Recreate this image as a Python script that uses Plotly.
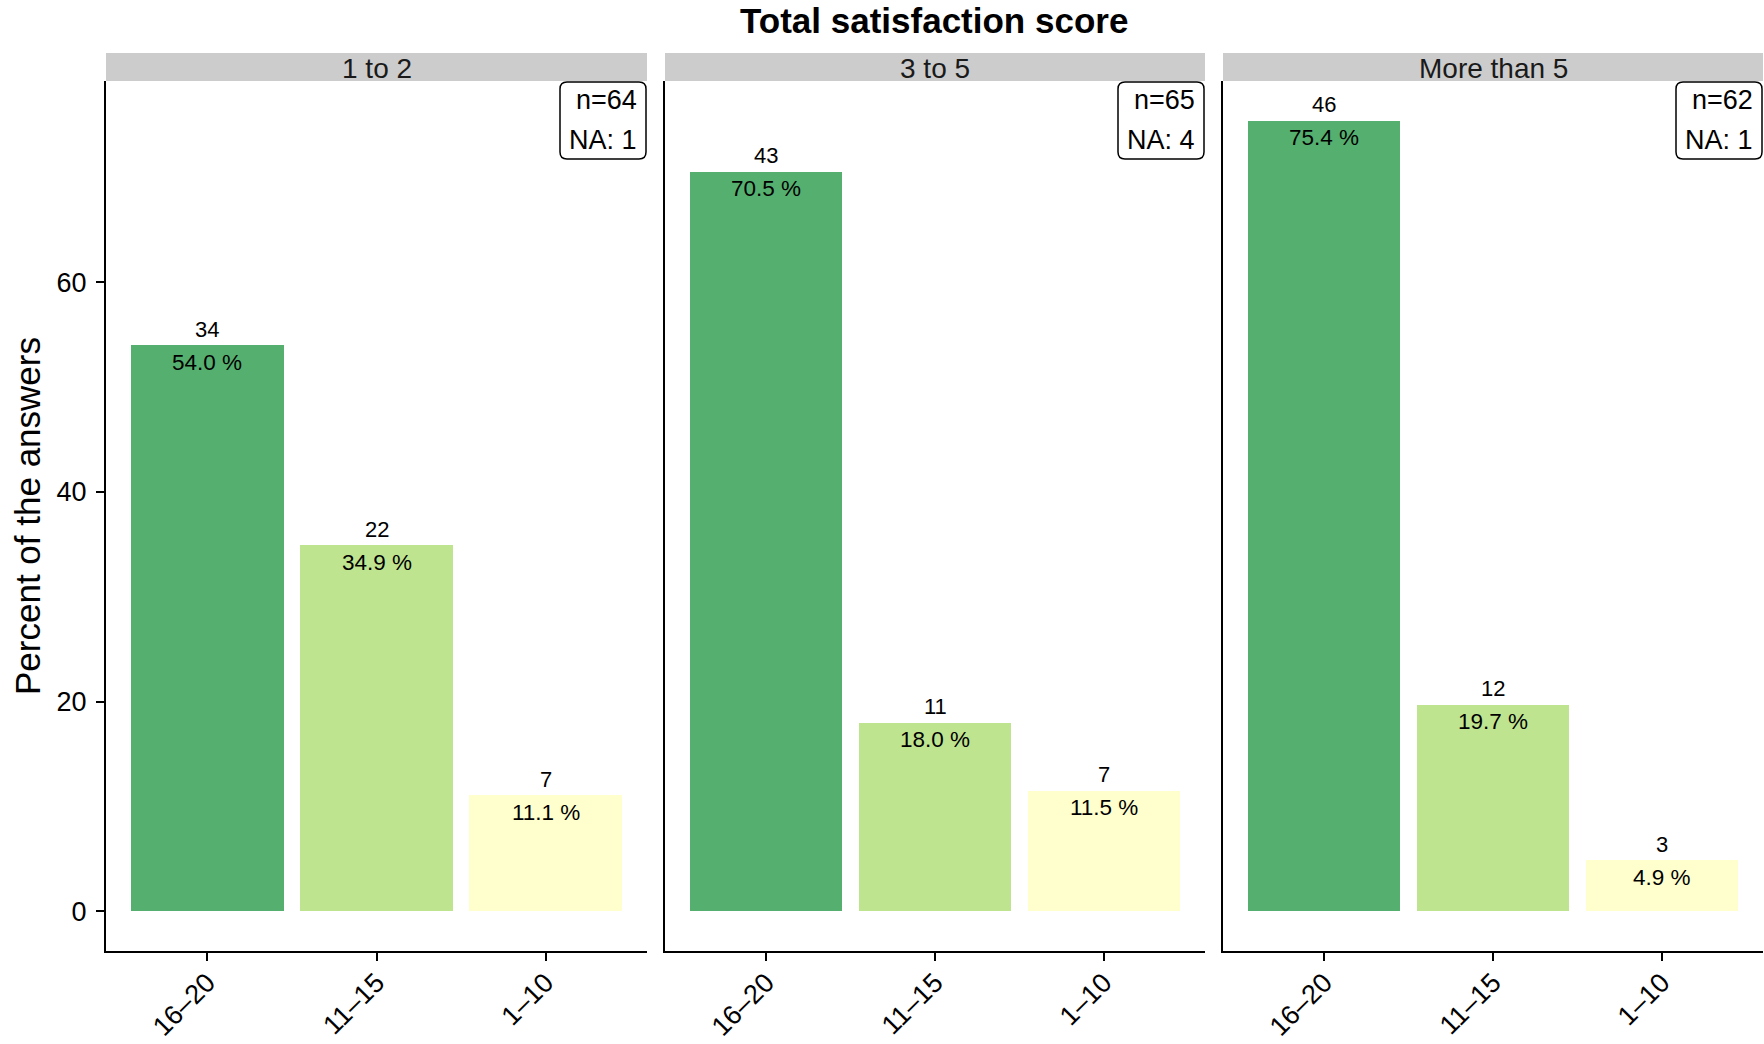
import plotly.graph_objects as go

# ---- data ----
categories = ["16\u201320", "11\u201315", "1\u201310"]
panels = ["1 to 2", "3 to 5", "More than 5"]
pct_1to2 = [54.0, 34.9, 11.1]
pct_3to5 = [70.5, 18.0, 11.5]
pct_more5 = [75.4, 19.7, 4.9]
cnt_1to2 = [34, 22, 7]
cnt_3to5 = [43, 11, 7]
cnt_more5 = [46, 12, 3]
n_total = [64, 65, 62]
n_na = [1, 4, 1]
bar_colors = ["#55B070", "#BFE490", "#FFFFCE"]

pcts = [pct_1to2, pct_3to5, pct_more5]
cnts = [cnt_1to2, cnt_3to5, cnt_more5]

W, H = 1764, 1044
FONT = "Liberation Sans, Arial, sans-serif"


def px(x):
    return x / W


def py(y):
    return 1 - y / H


panel_px = [(106, 647), (665, 1205), (1223, 1763)]
plot_top, plot_bot = 81, 951
strip_top = 53
yrange = [-3.77, 79.17]

fig = go.Figure()
annotations = []
shapes = []

for i, (name, p, c) in enumerate(zip(panels, pcts, cnts)):
    k = "" if i == 0 else str(i + 1)
    xa, ya = "x" + k, "y" + k
    fig.add_trace(go.Bar(
        x=categories, y=p, marker=dict(color=bar_colors, line=dict(width=0)),
        width=0.9, xaxis=xa, yaxis=ya, showlegend=False, hoverinfo="skip"))
    for cat, v, cn in zip(categories, p, c):
        annotations.append(dict(x=cat, y=v, xref=xa, yref=ya, text=str(cn),
                                showarrow=False, yshift=16, yanchor="middle",
                                font=dict(size=22, color="black", family=FONT)))
        annotations.append(dict(x=cat, y=v, xref=xa, yref=ya, text=f"{v:.1f} %",
                                showarrow=False, yshift=-17, yanchor="middle",
                                font=dict(size=22.5, color="black", family=FONT)))
    x0, x1 = panel_px[i]
    axis_common = dict(showline=True, linecolor="black", linewidth=2,
                       showgrid=False, zeroline=False, automargin=False)
    fig.update_layout(**{
        ("xaxis" + k): dict(domain=[px(x0), px(x1)], anchor=ya,
                            type="category",
                            range=[-0.6, 2.6], ticks="outside", ticklen=8,
                            tickwidth=2, tickcolor="black", tickangle=-45,
                            ticklabelstandoff=-5,
                            tickfont=dict(size=27, color="black", family=FONT),
                            **axis_common),
        ("yaxis" + k): dict(domain=[py(plot_bot), py(plot_top)], anchor=xa,
                            range=yrange,
                            tickvals=[0, 20, 40, 60] if i == 0 else [],
                            ticks="outside" if i == 0 else "",
                            ticklen=8, tickwidth=2, tickcolor="black",
                            showticklabels=(i == 0), ticklabelstandoff=4,
                            tickfont=dict(size=27, color="black", family=FONT),
                            **axis_common),
    })
    # strip
    shapes.append(dict(type="rect", xref="paper", yref="paper",
                       x0=px(x0), x1=px(x1), y0=py(plot_top), y1=py(strip_top),
                       fillcolor="#CCCCCC", line=dict(width=0), layer="below"))
    annotations.append(dict(x=px((x0 + x1) / 2), y=py(68),
                            xref="paper", yref="paper", text=name, showarrow=False,
                            xanchor="center", yanchor="middle",
                            font=dict(size=28, color="#1a1a1a", family=FONT)))
    # n / NA box with rounded corners
    bx0, bx1, by0, by1 = x1 - 87, x1 - 1, 82, 159
    r = 7
    path = (f"M {px(bx0 + r)} {py(by0)} L {px(bx1 - r)} {py(by0)} "
            f"Q {px(bx1)} {py(by0)} {px(bx1)} {py(by0 + r)} "
            f"L {px(bx1)} {py(by1 - r)} Q {px(bx1)} {py(by1)} {px(bx1 - r)} {py(by1)} "
            f"L {px(bx0 + r)} {py(by1)} Q {px(bx0)} {py(by1)} {px(bx0)} {py(by1 - r)} "
            f"L {px(bx0)} {py(by0 + r)} Q {px(bx0)} {py(by0)} {px(bx0 + r)} {py(by0)} Z")
    shapes.append(dict(type="path", xref="paper", yref="paper", path=path,
                       fillcolor="white", line=dict(color="black", width=1.5)))
    annotations.append(dict(x=px(x1 - 8), y=py(100), xref="paper", yref="paper",
                            text=f"n={n_total[i]}", showarrow=False,
                            xanchor="right", yanchor="middle",
                            font=dict(size=27, color="black", family=FONT)))
    annotations.append(dict(x=px(x1 - 8), y=py(140), xref="paper", yref="paper",
                            text=f"NA: {n_na[i]}", showarrow=False,
                            xanchor="right", yanchor="middle",
                            font=dict(size=27, color="black", family=FONT)))

# title and y title
annotations.append(dict(x=px(934), y=py(21), xref="paper", yref="paper",
                        text="<b>Total satisfaction score</b>", showarrow=False,
                        xanchor="center", yanchor="middle",
                        font=dict(size=35, color="black", family=FONT)))
annotations.append(dict(x=px(27), y=py(516), xref="paper", yref="paper",
                        text="Percent of the answers", showarrow=False,
                        textangle=-90, xanchor="center", yanchor="middle",
                        font=dict(size=35, color="black", family=FONT)))

fig.update_layout(width=W, height=H, margin=dict(l=0, r=0, t=0, b=0, autoexpand=False),
                  plot_bgcolor="white", paper_bgcolor="white",
                  annotations=annotations, shapes=shapes, bargap=0)

box_css = "margin:0;padding:0;overflow:hidden;width:1764px;height:1044px;"
post = (
    "var d=document.getElementById('{plot_id}');"
    f"document.documentElement.style.cssText='{box_css}';"
    f"document.body.style.cssText='{box_css}';"
    f"d.parentElement.style.cssText='{box_css}line-height:0;';"
)
fig.write_html("out.html", config={"displayModeBar": False}, post_script=post)
